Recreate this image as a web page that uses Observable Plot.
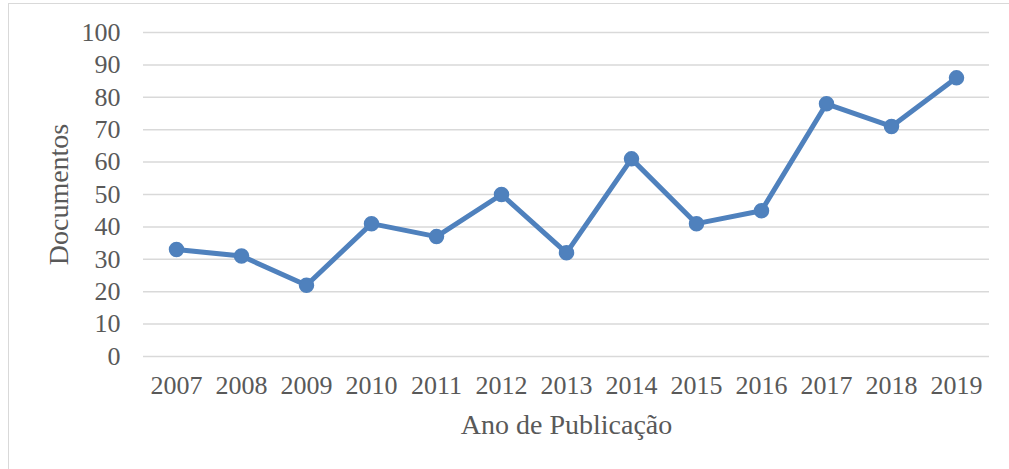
<!DOCTYPE html>
<html>
<head>
<meta charset="utf-8">
<script src="https://cdn.jsdelivr.net/npm/d3@7"></script>
<script src="https://cdn.jsdelivr.net/npm/@observablehq/plot@0.6"></script>
<style>
  html, body { margin: 0; padding: 0; background: #fff; overflow: hidden; }
  #wrap { position: relative; width: 1009px; height: 469px; }
  #frame { position: absolute; left: 8px; top: 3px; width: 1100px; height: 600px; border: 1px solid #d9d9d9; }
  #chart { position: absolute; left: 0; top: 0; }
</style>
</head>
<body>
<div id="wrap"><div id="frame"></div><div id="chart"></div></div>
<script>
const years = ["2007","2008","2009","2010","2011","2012","2013","2014","2015","2016","2017","2018","2019"];
const documentos = [33, 31, 22, 41, 37, 50, 32, 61, 41, 45, 78, 71, 86];
const yTicks = [0,10,20,30,40,50,60,70,80,90,100];
const xTitle = "Ano de Publicação";
const yTitle = "Documentos";

const data = years.map((y, i) => ({ano: y, docs: documentos[i]}));
const font = "'Liberation Serif', serif";
const col = "#595959";

const chart = Plot.plot({
  width: 1009,
  height: 469,
  marginLeft: 143,
  marginRight: 20,
  marginTop: 32,
  marginBottom: 113,
  style: { fontFamily: font, fontSize: "26px", color: col, background: "transparent" },
  x: { type: "point", domain: years, padding: 0.5 },
  y: { domain: [0, 100] },
  marks: [
    Plot.gridY(yTicks, { stroke: "#d9d9d9", strokeOpacity: 1, strokeWidth: 1.5 }),
    Plot.axisY(yTicks, { tickSize: 0, tickPadding: 23, label: null, fill: col, fontSize: 26 }),
    Plot.axisX(years, { tickSize: 0, tickPadding: 19, label: null, fill: col, fontSize: 26 }),
    Plot.text([xTitle], { text: d => d, frameAnchor: "bottom", dy: 69, lineAnchor: "middle", textAnchor: "middle", fill: col, fontSize: 28 }),
    Plot.text([yTitle], { text: d => d, frameAnchor: "left", dx: -84, rotate: -90, lineAnchor: "middle", textAnchor: "middle", fill: col, fontSize: 28 }),
    Plot.line(data, { x: "ano", y: "docs", stroke: "#4f81bd", strokeWidth: 5, strokeLinejoin: "round" }),
    Plot.dot(data, { x: "ano", y: "docs", r: 7, fill: "#4f81bd", stroke: "#4f81bd" })
  ]
});
document.getElementById("chart").appendChild(chart);
</script>
</body>
</html>
